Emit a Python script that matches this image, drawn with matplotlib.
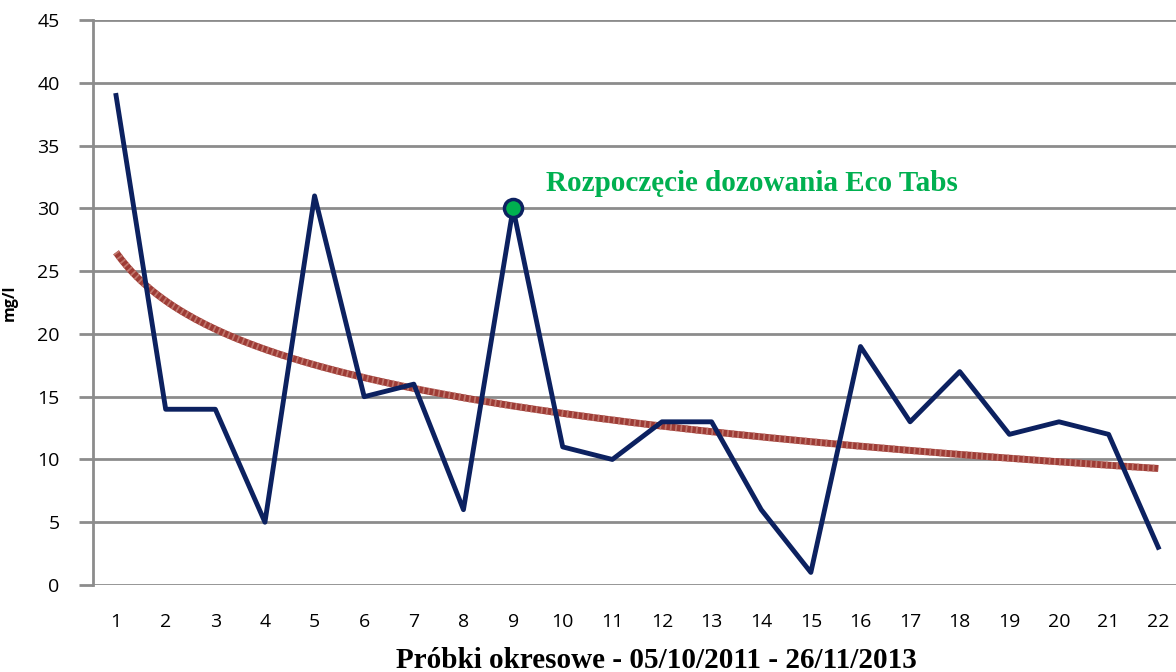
import numpy as np
import matplotlib.pyplot as plt

# probki
probki = list(range(1, 23))
wartosci = [39, 14, 14, 5, 31, 15, 16, 6, 30, 11, 10, 13, 13, 6, 1, 19, 13, 17, 12, 13, 12, 3]
y_ticks = [0, 5, 10, 15, 20, 25, 30, 35, 40, 45]
start_probka = 9
start_tekst = "Rozpoczęcie dozowania Eco Tabs"

# linia trendu logarytmiczna (dopasowanie do danych)
x = np.array(probki, dtype=float)
b, a = np.polyfit(np.log(x), np.array(wartosci, dtype=float), 1)
xs = np.linspace(1, 22, 200)
trend = a + b * np.log(xs)

fig = plt.figure(figsize=(11.76, 6.72), dpi=100)
ax = fig.add_axes([0.0791, 0.1295, 0.921, 0.8405])

grid_col = '#8c8c8c'
for yt in y_ticks:
    ax.axhline(yt, color=grid_col, linewidth=2, zorder=1)

# trend z lekka tekstura
ax.plot(xs, trend, color='#9e3c36', linewidth=5, zorder=2, solid_capstyle='butt')
ax.plot(xs, trend, color='#c0766c', linewidth=5, zorder=2, linestyle=(0, (0.25, 0.5)),
        dash_capstyle='butt')
ax.plot(probki, wartosci, color='#0c2160', linewidth=3.5, zorder=3)
ax.plot([start_probka], [wartosci[start_probka - 1]], 'o', markersize=13,
        markerfacecolor='#00b050', markeredgecolor='#0c2160', markeredgewidth=2.5, zorder=4)
ax.text(start_probka + 0.66, wartosci[start_probka - 1] + 2.0, start_tekst,
        color='#00b050', fontsize=21, fontweight='bold', family='Liberation Serif',
        ha='left', va='center')

ax.set_xlim(0.536, 22.36)
ax.set_ylim(0, 45)
ax.set_yticks(y_ticks)
ax.set_xticks(probki)
ax.tick_params(axis='y', length=10, width=2, color=grid_col, labelsize=14, pad=14)
ax.tick_params(axis='x', length=0, labelsize=14, pad=20)
for lab in ax.get_xticklabels() + ax.get_yticklabels():
    lab.set_family('Open Sans')

for s in ['top', 'right', 'bottom']:
    ax.spines[s].set_visible(False)
ax.spines['left'].set_color(grid_col)
ax.spines['left'].set_linewidth(2)

ax.set_ylabel("mg/l", fontsize=11.5, fontweight='bold', family='Open Sans', labelpad=14)
fig.text(656 / 1176, 1 - 660 / 672, "Próbki okresowe - 05/10/2011 - 26/11/2013",
         fontsize=21, fontweight='bold', family='Liberation Serif',
         ha='center', va='center')

fig.savefig("out.png", dpi=100)
